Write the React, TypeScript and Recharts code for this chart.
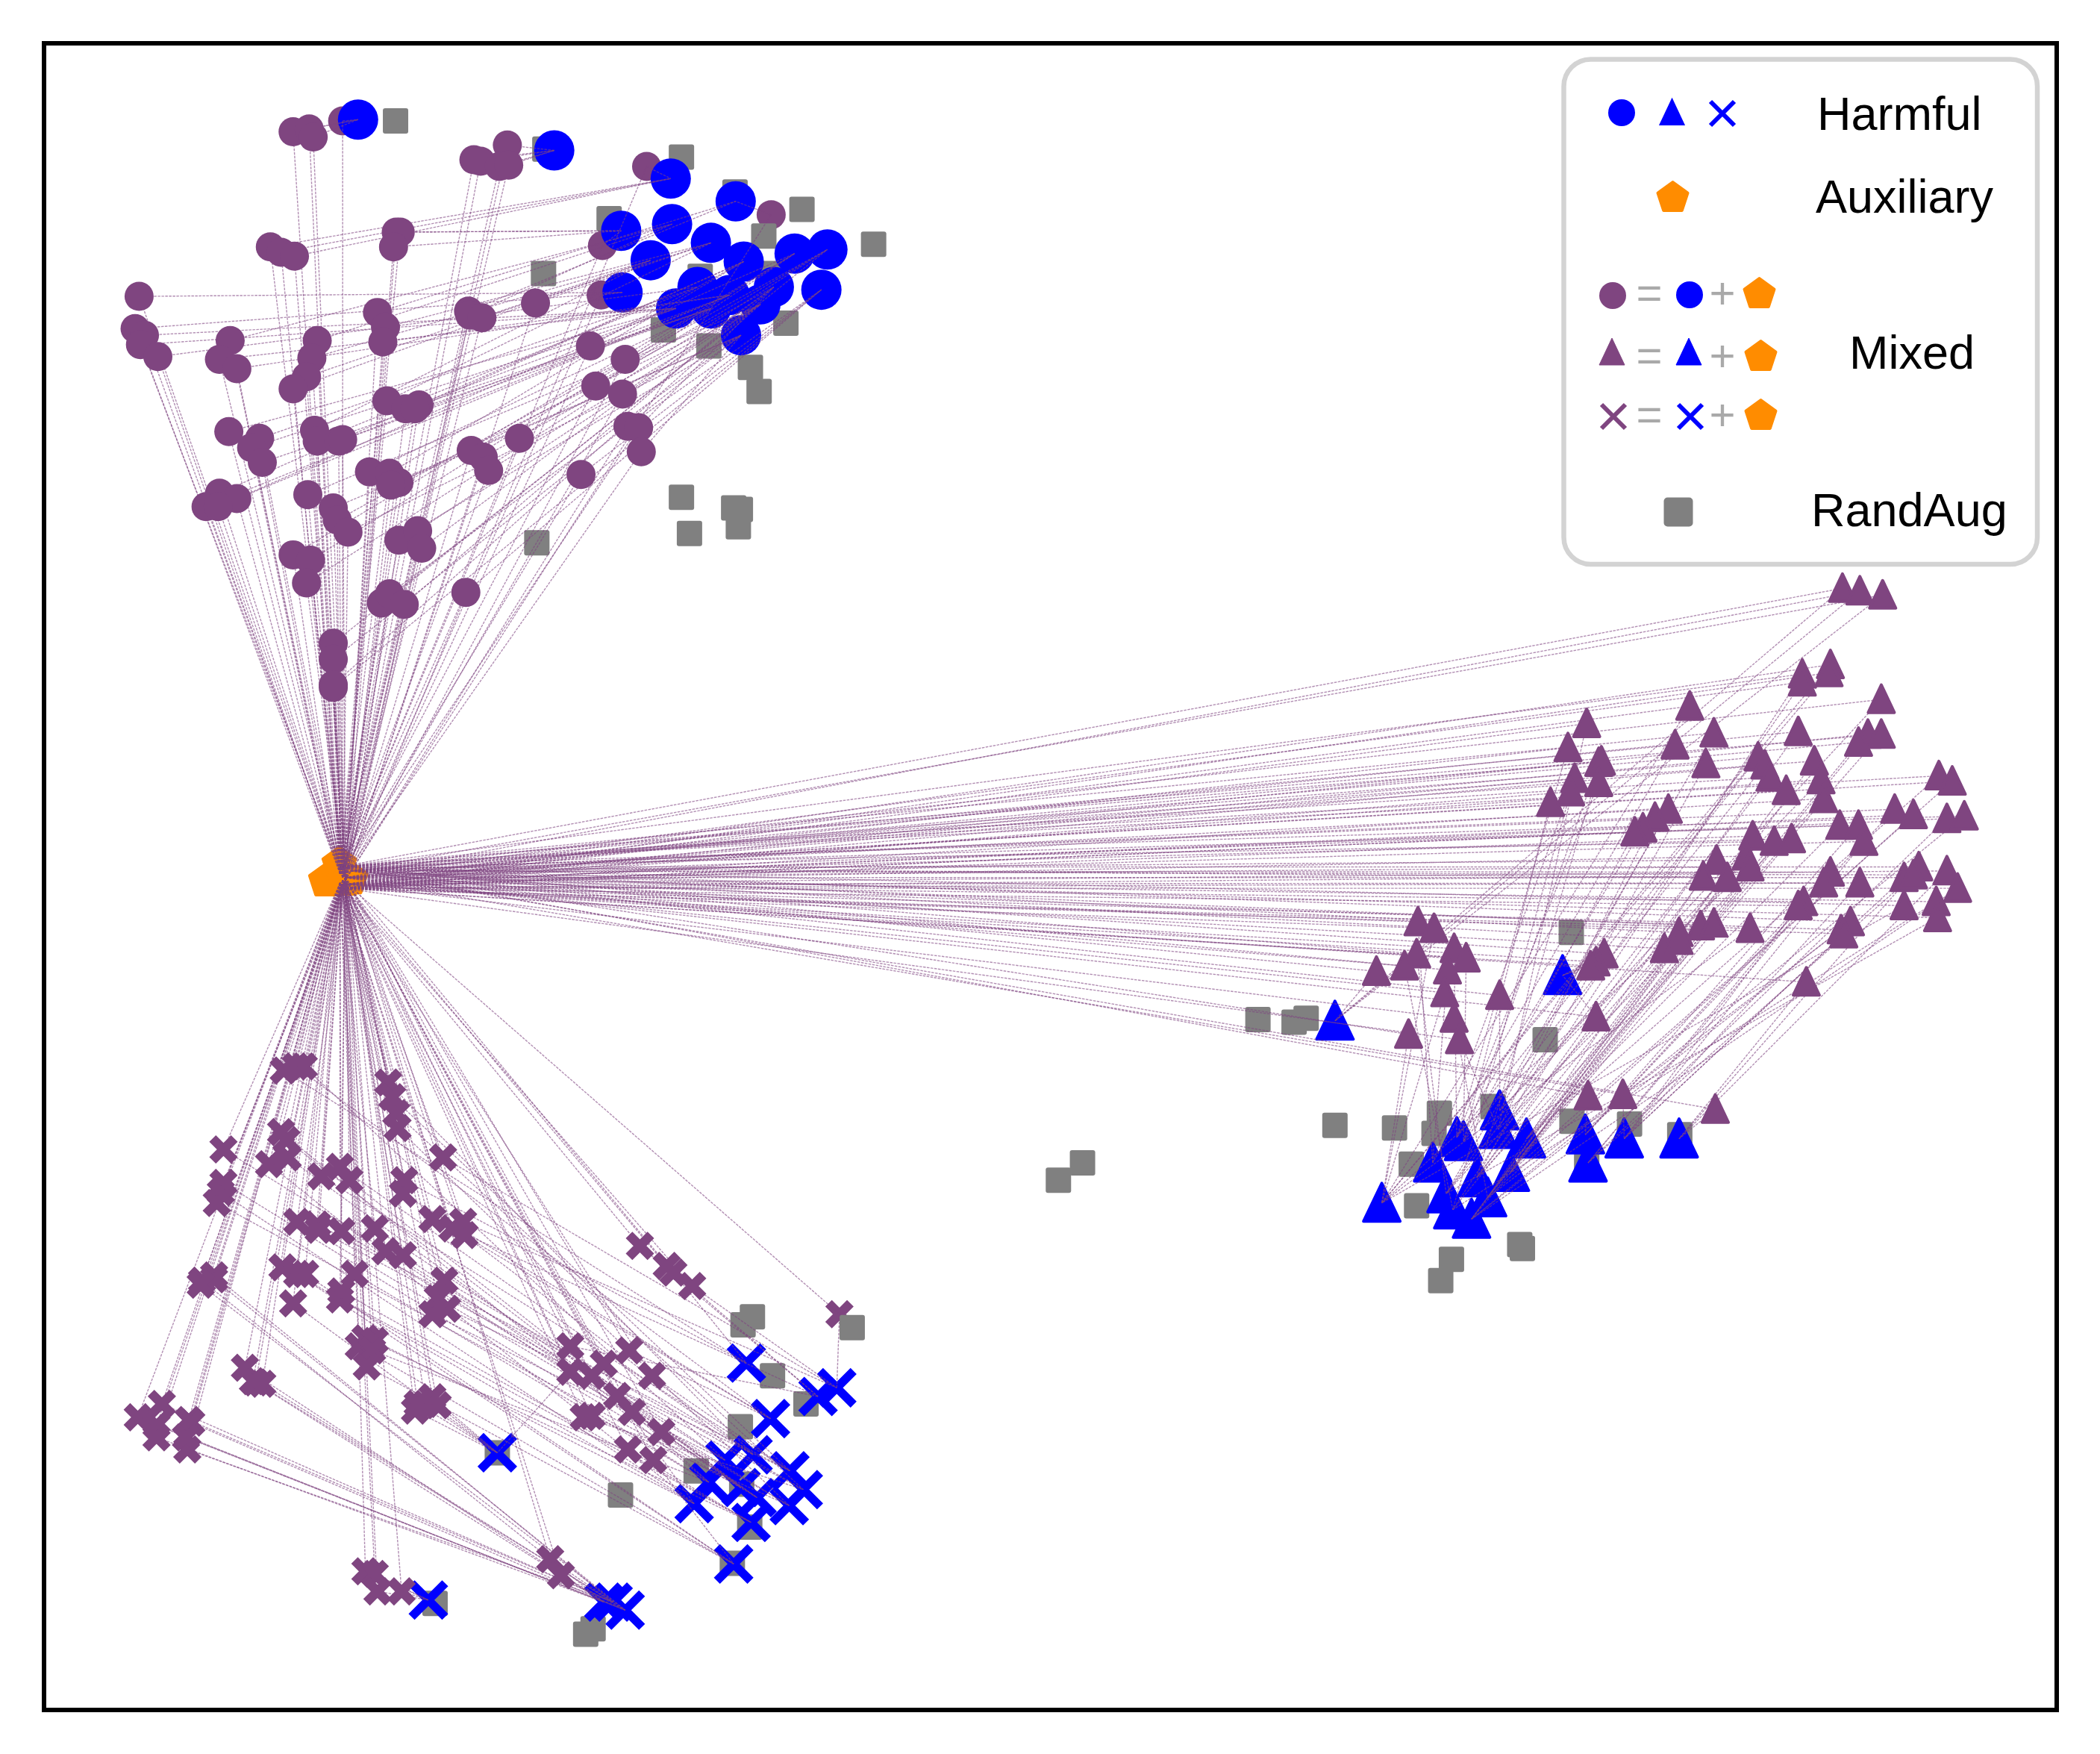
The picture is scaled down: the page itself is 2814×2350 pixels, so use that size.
import { Scatter, ScatterChart, XAxis, YAxis } from 'recharts'

const WIDTH = 2814
const HEIGHT = 2350

const PURPLE = '#7f4580'
const BLUE = '#0000ff'
const ORANGE = '#ff8c00'
const GRAY = '#808080'
const SIGN = '#a9a9a9'

type Pt = number[]

const harmfulCircles: Pt[] = [
  [267.5, 89], [414, 112], [501, 133], [549.5, 150], [464, 172], [502, 167], [486, 194], [531, 181], [555.5, 195], [593.5, 189],
  [618, 186], [613.5, 216], [465, 218], [521, 214], [545, 220], [505, 230], [531, 230], [578, 214], [568, 227], [553.5, 250],
]

const harmfulTriangles: Pt[] = [
  [997, 762], [1167, 728], [1120, 829], [1119, 843], [1088, 849], [1093, 852], [1140, 850], [1184, 847], [1186, 868], [1213, 850],
  [1254, 850], [1070, 868], [1103, 879], [1128, 875], [1032, 898], [1080, 891], [1085, 903], [1111, 894], [1099, 910],
]

const harmfulCrosses: Pt[] = [
  [371.5, 1084.5], [320, 1194.5], [557.5, 1017.5], [575.5, 1059], [625, 1036], [611, 1042.5], [541.5, 1090], [562.5, 1086], [529.5, 1106.5], [518.5, 1122.5],
  [590, 1098], [600, 1112], [589.5, 1124], [553.5, 1110.5], [565.5, 1118], [561, 1136.5], [548, 1167.5], [451, 1196], [458, 1196], [467, 1202],
]

// x, y, index of the harmful point it mixes
const mixedCirclesBehind: Pt[] = [
  [256, 90, 0], [483, 124, 2], [450, 183, 4], [449, 220, 12], [576, 160, 3],
]

const mixedCircles: Pt[] = [
  [219, 98, 0], [231, 96, 0], [234, 102, 0],
  [354, 119, 1], [359, 120, 1], [379, 108, 1], [373, 124, 1], [380, 123, 1],
  [202, 184, 2], [210, 188, 2], [220, 191, 2],
  [296, 173, 4], [299, 173, 4], [294, 184, 4],
  [104, 221, 12], [101, 245, 12], [108, 250, 15], [105, 257, 15], [118, 266, 13],
  [172, 254, 5], [164, 268, 15], [177, 275, 14],
  [237, 254, 5], [233, 267, 6], [229, 281, 6], [219, 290, 6],
  [282, 233, 3], [288, 244, 7], [286, 255, 14],
  [350, 232, 3], [351, 235, 5], [360, 237, 7], [400, 226, 7],
  [289, 299, 7], [303, 305, 15], [313, 302, 16], [310, 305, 8],
  [171, 322, 15], [194, 327, 13], [188, 334, 15], [196, 345, 16],
  [235, 321, 6], [237, 329, 13], [253, 329, 14], [256, 328, 16],
  [388, 327, 9], [352, 336, 17], [361, 341, 18], [365, 351, 18],
  [441, 258, 8], [467, 268, 9], [445, 288, 10], [465, 294, 17], [469, 318, 11], [477, 319, 17], [479, 337, 19],
  [276, 352, 16], [291, 353, 8], [298, 360, 18], [292, 362, 19],
  [434, 354, 11],
  [230, 369, 18], [249, 379, 19], [252, 388, 10], [260, 397, 19],
  [164, 368, 8], [177, 372, 9], [154, 378, 14], [163, 378, 14],
  [298, 403, 19], [312, 396, 18], [315, 409, 17],
  [219, 414, 9], [232, 418, 16], [229, 435, 10],
  [348, 442, 11],
  [285, 450, 18], [291, 443, 19], [302, 451, 17],
  [249, 480, 10], [249, 492, 19], [249, 513, 11], [249, 511, 18],
]

const mixedTriangles: Pt[] = [
  [1376, 439, 0], [1389, 441, 0], [1406, 444, 0],
  [1367, 496, 14], [1366, 502, 14], [1346, 503, 16], [1346, 509, 15],
  [1405, 522, 2], [1262, 527, 14], [1185, 540, 3], [1280, 547, 15], [1343, 546, 12], [1251, 556, 11], [1171, 558, 4],
  [1395, 548, 13], [1405, 548, 6], [1388, 554, 17],
  [1274, 570, 12], [1313, 565, 4], [1318, 571, 5], [1322, 580, 15], [1334, 590, 18],
  [1355, 568, 13], [1360, 582, 2], [1362, 596, 3],
  [1194, 569, 5], [1196, 568, 12], [1194, 584, 4], [1176, 581, 11], [1173, 591, 16], [1158, 599, 5],
  [1246, 604, 2], [1236, 610, 3], [1227, 618, 4], [1221, 621, 5],
  [1448, 579, 6], [1458, 583, 13], [1415, 604, 7], [1429, 608, 17], [1454, 611, 8], [1467, 609, 18],
  [1374, 616, 6], [1388, 616, 7], [1392, 628, 9],
  [1309, 624, 6], [1325, 628, 17], [1338, 626, 18],
  [1282, 642, 12], [1304, 639, 13], [1272, 654, 17], [1290, 655, 18], [1307, 647, 14],
  [1367, 651, 7], [1362, 659, 8], [1389, 659, 9],
  [1433, 647, 10], [1422, 655, 9], [1429, 653, 8], [1454, 650, 10], [1462, 663, 18],
  [1422, 676, 14], [1446, 673, 16], [1447, 685, 15],
  [1347, 673, 8], [1343, 676, 9], [1382, 688, 18], [1375, 694, 17],
  [1270, 691, 13], [1280, 689, 12], [1307, 693, 14], [1254, 696, 16], [1243, 708, 15], [1254, 702, 18],
  [1059, 688, 11], [1071, 693, 14], [1058, 712, 15], [1049, 721, 16], [1028, 725, 0],
  [1086, 708, 4], [1095, 715, 5], [1081, 724, 11],
  [1079, 741, 14], [1120, 743, 2], [1086, 760, 17], [1090, 776, 3], [1052, 772, 14],
  [1192, 759, 1], [1198, 712, 1], [1192, 718, 1], [1188, 721, 1],
  [1186, 818, 7], [1212, 817, 9], [1281, 828, 10], [1349, 733, 10], [1377, 697, 9],
]

const mixedCrossesBehind: Pt[] = [[627, 981, 4]]

const mixedCrosses: Pt[] = [
  [212, 799, 2], [221, 796, 3], [227, 796, 6],
  [290, 808, 7], [293, 819, 10], [296, 831, 11], [297, 842, 12],
  [167, 858, 6], [331, 864, 4], [210, 845, 8], [214, 851, 13], [201, 869, 9], [215, 864, 14],
  [254, 871, 7], [240, 878, 10], [261, 881, 13], [302, 881, 2], [301, 891, 3],
  [167, 883, 8], [165, 890, 9], [162, 898, 13],
  [222, 912, 14], [237, 914, 10], [238, 918, 11], [255, 919, 12],
  [280, 917, 6], [323, 910, 5], [346, 912, 4], [338, 917, 3], [347, 922, 7],
  [288, 934, 13], [301, 937, 14], [211, 946, 15], [222, 951, 16], [228, 951, 16],
  [265, 951, 8], [254, 970, 9], [255, 964, 15], [332, 956, 11], [327, 969, 12], [334, 977, 10], [323, 981, 6],
  [151, 956, 17], [160, 952, 18], [160, 955, 19], [150, 959, 19], [219, 973, 0],
  [183, 1021, 17], [191, 1032, 18], [196, 1033, 19], [189, 1031, 17],
  [273, 999, 15], [268, 1005, 16], [280, 1001, 9], [278, 1008, 8], [274, 1020, 16],
  [318, 1048, 0], [310, 1053, 0], [327, 1049, 0], [323, 1043, 0], [312, 1048, 0],
  [103, 1058, 17], [121, 1048, 18], [117, 1064, 19], [117, 1073, 17], [141, 1060, 18], [143, 1062, 19], [140, 1082, 18], [139, 1073, 19],
  [273, 1173, 1], [280, 1175, 1], [282, 1188, 1], [300, 1188, 1],
  [478, 930, 5], [498, 945, 5], [503, 950, 2], [517, 960, 4],
  [426, 1005, 5], [470, 1008, 3], [426, 1024, 0], [451, 1018, 7], [442, 1027, 8], [487, 1027, 10], [461, 1042, 9], [472, 1054, 13], [436, 1058, 11], [442, 1057, 12], [494, 1069, 14], [469, 1082, 15], [488, 1090, 16],
  [411, 1164, 18], [419, 1176, 19],
]

const auxiliary: Pt[] = [[243.5, 657.5], [253.5, 645], [258, 657], [262, 656]]
const hubsCircle: Pt[] = [[256, 655], [258, 657], [254, 652]]
const hubsTriangle: Pt[] = [[254, 647], [258, 655], [262, 650], [258, 660], [256, 663]]
const hubsCross: Pt[] = [[256, 657], [258, 655], [254, 659]]

const randAug: Pt[] = [
  [295.5, 90], [407, 111], [509, 117], [549, 143], [455, 163], [599, 156], [570.5, 176], [652.5, 182], [406, 204], [578, 204], [523, 206],
  [495.5, 246], [587, 241], [529.5, 258], [560.5, 274], [567, 292], [509, 371], [548, 379], [553, 380], [551.5, 393], [515, 398], [401, 405],
  [939.5, 761], [966.5, 763], [975.5, 760], [1173.5, 696], [1154, 776], [997, 840], [1041.5, 842], [1075, 831], [1071, 846], [1115, 826],
  [1054, 869], [1174, 837], [1217, 839], [1254.5, 847], [1185, 867], [1058, 900], [1135, 929], [1137, 932], [1084, 940], [1076, 956],
  [808.5, 868], [790.5, 881],
  [562, 983], [555, 989], [636.5, 991], [577, 1027], [602, 1048], [553, 1065], [520, 1098], [463.5, 1116], [554, 1108], [560, 1140],
  [547, 1167], [443, 1216], [437.5, 1220], [371.5, 1084.5], [325, 1197],
]

const toPoints = (list: Pt[]) => list.map((p) => ({ x: p[0], y: p[1] }))

const circle = (r: number, fill: string) => (props: any) => <circle cx={props.cx} cy={props.cy} r={r} fill={fill} />

const square = (props: any) => (
  <rect x={props.cx - 17} y={props.cy - 17} width={34} height={34} rx={3} fill={GRAY} />
)

function trianglePath(cx: number, cy: number, half: number) {
  return `M${cx},${cy - half - 1}L${cx + half - 1},${cy + half - 1}L${cx - half + 1},${cy + half - 1}Z`
}

const triangle = (half: number, fill: string) => (props: any) => (
  <path d={trianglePath(props.cx, props.cy, half)} fill={fill} stroke={fill} strokeWidth={4} strokeLinejoin="round" />
)

function crossPath(cx: number, cy: number, s: number) {
  return `M${cx - s},${cy - s}L${cx + s},${cy + s}M${cx - s},${cy + s}L${cx + s},${cy - s}`
}

const cross = (s: number, w: number, color: string) => (props: any) => (
  <path d={crossPath(props.cx, props.cy, s)} fill="none" stroke={color} strokeWidth={w} />
)

function pentagonPath(cx: number, cy: number, r: number) {
  const pts = [0, 1, 2, 3, 4].map((i) => {
    const a = (-90 + i * 72) * (Math.PI / 180)
    return `${cx + r * Math.cos(a)},${cy + r * Math.sin(a)}`
  })
  return `M${pts.join('L')}Z`
}

const pentagon = (r: number) => (props: any) => (
  <path d={pentagonPath(props.cx, props.cy, r)} fill={ORANGE} stroke={ORANGE} strokeWidth={4} strokeLinejoin="round" />
)

const noMark = () => <g />

const linkLine = {
  stroke: PURPLE,
  strokeWidth: 1.4,
  strokeOpacity: 0.6,
  strokeDasharray: '3.5 1.5',
}

function links(mixed: Pt[], harmful: Pt[], hubs: Pt[], name: string) {
  return mixed.flatMap((m, i) => {
    const mid = { x: m[0], y: m[1] }
    const h = harmful[m[2]]
    const hub = hubs[i % hubs.length]
    return [
      <Scatter
        key={`${name}-hub-${i}`}
        data={[{ x: hub[0], y: hub[1] }, mid]}
        line={linkLine}
        shape={noMark}
        isAnimationActive={false}
      />,
      <Scatter
        key={`${name}-harm-${i}`}
        data={[mid, { x: h[0], y: h[1] }]}
        line={linkLine}
        shape={noMark}
        isAnimationActive={false}
      />,
    ]
  })
}

function LegendBox() {
  const label = { fontFamily: '"Liberation Sans", Arial, sans-serif', fontSize: 63, fill: '#000' }
  const sign = { fontFamily: '"Liberation Sans", Arial, sans-serif', fontSize: 60, fill: SIGN, textAnchor: 'middle' as const }
  const rows = [393, 477, 556]
  return (
    <svg width={WIDTH} height={HEIGHT} style={{ position: 'absolute', left: 0, top: 0 }}>
      <rect x={2095.5} y={79.5} width={634.5} height={676.5} rx={36} fill="#fff" stroke="#d3d3d3" strokeWidth={6.5} />

      <circle cx={2173} cy={151} r={18} fill={BLUE} />
      <path d={trianglePath(2240.5, 151, 17)} fill={BLUE} stroke={BLUE} strokeWidth={2} />
      <path d={crossPath(2308, 152, 16)} fill="none" stroke={BLUE} strokeWidth={6} />
      <text x={2435} y={174} {...label}>Harmful</text>

      <path d={pentagonPath(2241.5, 265, 21)} fill={ORANGE} stroke={ORANGE} strokeWidth={4} strokeLinejoin="round" />
      <text x={2433} y={285} {...label}>Auxiliary</text>

      <circle cx={2161} cy={396} r={18} fill={PURPLE} />
      <circle cx={2264} cy={395} r={18} fill={BLUE} />
      <path d={trianglePath(2160, 472, 18)} fill={PURPLE} stroke={PURPLE} strokeWidth={1} />
      <path d={trianglePath(2263, 472, 18)} fill={BLUE} stroke={BLUE} strokeWidth={1} />
      <path d={crossPath(2162, 558, 16)} fill="none" stroke={PURPLE} strokeWidth={6} />
      <path d={crossPath(2265, 558, 16)} fill="none" stroke={BLUE} strokeWidth={6} />
      {rows.map((y, i) => (
        <g key={y}>
          <text x={2210} y={y + 20} {...sign}>=</text>
          <text x={2308} y={y + 20} {...sign}>+</text>
          <path
            d={pentagonPath(i === 0 ? 2357.5 : 2359.5, y + 1, 21)}
            fill={ORANGE}
            stroke={ORANGE}
            strokeWidth={4}
            strokeLinejoin="round"
          />
        </g>
      ))}
      <text x={2478} y={494} {...label}>Mixed</text>

      <rect x={2229.5} y={666.5} width={39} height={39} rx={5} fill={GRAY} />
      <text x={2427} y={705} {...label}>RandAug</text>
    </svg>
  )
}

export default function App() {
  return (
    <div style={{ position: 'absolute', left: 0, top: 0, width: WIDTH, height: HEIGHT, background: '#fff' }}>
      <ScatterChart width={WIDTH} height={HEIGHT} margin={{ top: 58, right: 58, bottom: 60, left: 59 }}>
        <XAxis type="number" dataKey="x" domain={[33, 1536]} hide />
        <YAxis type="number" dataKey="y" domain={[32, 1276]} reversed hide />

        <Scatter data={toPoints(mixedCirclesBehind)} shape={circle(19.5, PURPLE)} isAnimationActive={false} />
        <Scatter data={toPoints(mixedCrossesBehind)} shape={cross(14.6, 12.5, PURPLE)} isAnimationActive={false} />
        <Scatter data={toPoints(randAug)} shape={square} isAnimationActive={false} />
        <Scatter data={toPoints(auxiliary)} shape={pentagon(23)} isAnimationActive={false} />
        <Scatter data={toPoints(harmfulCircles)} shape={circle(27, BLUE)} isAnimationActive={false} />
        <Scatter data={toPoints(harmfulTriangles)} shape={triangle(25.5, BLUE)} isAnimationActive={false} />
        <Scatter data={toPoints(harmfulCrosses)} shape={cross(22.5, 11.5, BLUE)} isAnimationActive={false} />

        {links([...mixedCirclesBehind, ...mixedCircles], harmfulCircles, hubsCircle, 'circle')}
        {links(mixedTriangles, harmfulTriangles, hubsTriangle, 'triangle')}
        {links([...mixedCrossesBehind, ...mixedCrosses], harmfulCrosses, hubsCross, 'cross')}

        <Scatter data={toPoints(mixedCircles)} shape={circle(19.5, PURPLE)} isAnimationActive={false} />
        <Scatter data={toPoints(mixedTriangles)} shape={triangle(18.5, PURPLE)} isAnimationActive={false} />
        <Scatter data={toPoints(mixedCrosses)} shape={cross(14.6, 12.5, PURPLE)} isAnimationActive={false} />
      </ScatterChart>
      <LegendBox />
      <div
        style={{
          position: 'absolute',
          left: 56,
          top: 55,
          width: 2703,
          height: 2239,
          boxSizing: 'border-box',
          border: '6.5px solid #000',
        }}
      />
    </div>
  )
}
